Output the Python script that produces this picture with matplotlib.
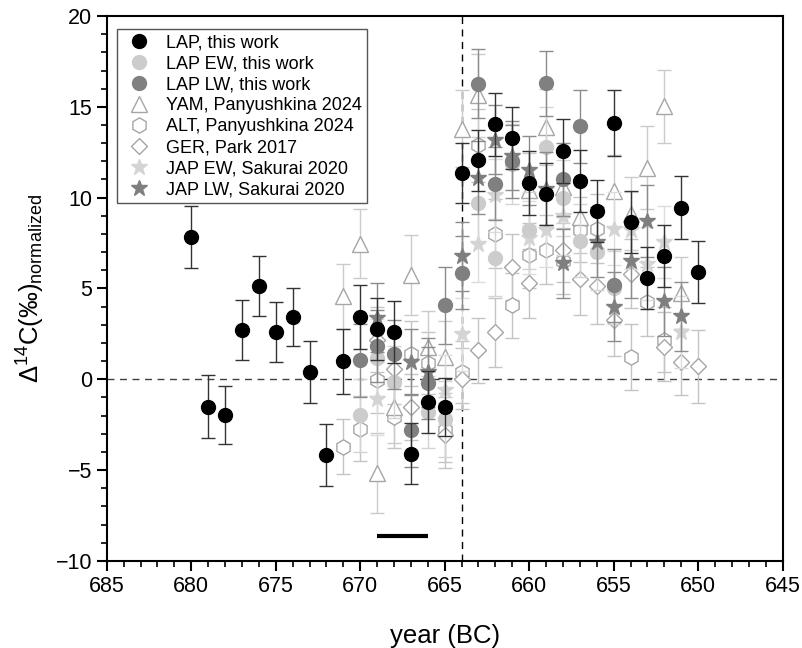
import matplotlib
matplotlib.use("Agg")
import matplotlib.pyplot as plt
from matplotlib.ticker import MultipleLocator

plt.rcParams['font.family'] = ['Liberation Sans', 'DejaVu Sans']
plt.rcParams['mathtext.fontset'] = 'custom'
plt.rcParams['mathtext.rm'] = 'Liberation Sans'
plt.rcParams['mathtext.it'] = 'Liberation Sans:italic'

# ---- data ----
lap_years = [680, 679, 678, 677, 676, 675, 674, 673, 672, 671, 670, 669, 668, 667, 666, 665,
             664, 663, 662, 661, 660, 659, 658, 657, 656, 655, 654, 653, 652, 651, 650]
lap_vals = [7.83, -1.5, -1.95, 2.7, 5.12, 2.6, 3.43, 0.4, -4.18, 0.99, 3.43, 2.79, 2.6, -4.09, -1.25, -1.52,
            11.35, 12.05, 14.03, 13.3, 10.8, 10.22, 12.57, 10.9, 9.26, 14.1, 8.66, 5.58, 6.77, 9.45, 5.9]
lap_err = [1.7, 1.75, 1.6, 1.65, 1.65, 1.65, 1.6, 1.7, 1.7, 1.8, 1.75, 1.7, 1.7, 1.7, 1.7, 1.6,
           1.65, 1.7, 1.75, 1.7, 1.75, 1.7, 1.75, 1.7, 1.7, 1.8, 1.7, 1.7, 1.7, 1.75, 1.7]

lapew_years = [670, 669, 668, 666, 665, 663, 662, 661, 660, 659, 658, 657, 656, 655]
lapew_vals = [-1.98, 1.2, -0.15, -1.8, -2.2, 9.7, 6.7, 11.87, 8.2, 12.78, 10.0, 7.63, 7.0, 5.05]
lapew_err = [2.0, 2.1, 2.0, 2.0, 2.1, 2.2, 2.1, 2.2, 2.1, 2.2, 2.1, 2.0, 2.1, 2.0]

laplw_years = [670, 669, 668, 667, 666, 665, 664, 663, 662, 661, 659, 658, 657, 655]
laplw_vals = [1.05, 1.83, 1.38, -2.8, -0.2, 4.07, 5.87, 16.27, 10.77, 12.0, 16.3, 11.0, 13.92, 5.17]
laplw_err = [2.0, 2.0, 1.9, 2.0, 2.0, 2.1, 2.0, 1.9, 2.0, 2.0, 1.8, 2.0, 2.0, 2.0]

yam_years = [671, 670, 669, 668, 667, 666, 665, 664, 663, 660, 659, 658, 657, 655, 654, 653, 652, 651]
yam_vals = [4.57, 7.47, -5.17, -1.5, 5.72, 1.78, 1.23, 13.8, 15.63, 10.44, 13.9, 10.58, 8.93,
            10.36, 9.12, 11.65, 15.02, 4.75]
yam_err = [1.8, 1.9, 2.2, 2.0, 2.2, 2.0, 2.0, 2.1, 2.3, 2.0, 2.1, 2.0, 2.0, 2.0, 2.0, 2.3, 2.0, 2.0]

alt_years = [671, 670, 669, 668, 667, 666, 665, 664, 663, 662, 661, 660, 659, 658, 657, 656, 654, 653, 652]
alt_vals = [-3.7, -2.71, -0.05, -2.07, 1.41, 0.9, -2.77, 0.4, 12.88, 8.02, 4.07, 6.82, 7.14, 6.51,
            8.24, 8.29, 1.23, 4.26, 2.18]
alt_err = [1.5, 1.8, 1.8, 1.7, 1.8, 1.7, 1.8, 1.7, 2.0, 1.9, 1.8, 1.8, 1.9, 1.8, 1.8, 1.9, 1.8, 1.9, 1.8]

ger_years = [669, 668, 667, 665, 664, 663, 662, 661, 660, 658, 657, 656, 655, 654, 652, 651, 650]
ger_vals = [2.18, 0.55, -1.52, -3.08, 0.04, 1.6, 2.6, 6.18, 5.3, 7.14, 5.54, 5.12, 3.28, 5.82, 1.78, 0.95, 0.72]
ger_err = [1.8, 1.9, 1.8, 1.8, 1.7, 1.8, 1.9, 1.8, 1.9, 1.8, 2.0, 2.1, 2.0, 1.9, 1.9, 1.8, 2.0]

japew_years = [669, 665, 664, 663, 662, 660, 659, 658, 655, 654, 653, 652, 651]
japew_vals = [-1.06, -0.57, 2.48, 7.47, 10.13, 7.8, 8.2, 8.97, 8.29, 8.2, 6.36, 7.56, 2.6]
japew_err = [2.0, 1.9, 2.0, 2.1, 2.0, 2.0, 2.0, 2.1, 2.0, 2.1, 2.0, 2.0, 2.0]

japlw_years = [669, 667, 666, 664, 663, 662, 661, 660, 659, 658, 656, 655, 654, 653, 652, 651]
japlw_vals = [3.4, 0.95, 0.4, 6.77, 11.1, 13.19, 12.3, 11.5, 10.5, 6.4, 7.56, 4.0, 6.5, 8.71, 4.31, 3.48]
japlw_err = [1.9, 1.8, 1.9, 1.9, 2.0, 1.9, 1.9, 1.9, 2.0, 1.9, 1.9, 1.9, 2.0, 2.0, 1.9, 1.9]

event_year = 664
bar_years = [669, 666]
bar_level = -8.6

# ---- figure ----
fig = plt.figure(figsize=(8.03, 6.48), dpi=100)
ax = fig.add_axes([0.1329, 0.1343, 0.8418, 0.8410])

grey_edge = '#a6a6a6'
ekw = dict(capsize=5, elinewidth=1.0, capthick=1.0, linestyle='none')

ax.errorbar(alt_years, alt_vals, yerr=alt_err, marker='h', ms=11, mfc='white', mec=grey_edge,
            mew=1.0, ecolor='#c4c4c4', label='ALT, Panyushkina 2024', zorder=2, **ekw)
ax.errorbar(ger_years, ger_vals, yerr=ger_err, marker='D', ms=8.5, mfc='white', mec=grey_edge,
            mew=1.0, ecolor='#c4c4c4', label='GER, Park 2017', zorder=2, **ekw)
ax.errorbar(yam_years, yam_vals, yerr=yam_err, marker='^', ms=11, mfc='white', mec=grey_edge,
            mew=1.0, ecolor='#cbcbcb', label='YAM, Panyushkina 2024', zorder=2, **ekw)
ax.errorbar(japew_years, japew_vals, yerr=japew_err, marker='*', ms=12, mfc='#d4d4d4', mec='#d4d4d4',
            ecolor='#dcdcdc', label='JAP EW, Sakurai 2020', zorder=3, **ekw)
ax.errorbar(lapew_years, lapew_vals, yerr=lapew_err, marker='o', ms=10, mfc='#cccccc', mec='#cccccc',
            ecolor='#d4d4d4', label='LAP EW, this work', zorder=3, **ekw)
ax.errorbar(japlw_years, japlw_vals, yerr=japlw_err, marker='*', ms=12, mfc='#7f7f7f', mec='#7f7f7f',
            ecolor='#8c8c8c', label='JAP LW, Sakurai 2020', zorder=4, **ekw)
ax.errorbar(laplw_years, laplw_vals, yerr=laplw_err, marker='o', ms=10, mfc='#808080', mec='#808080',
            ecolor='#8c8c8c', label='LAP LW, this work', zorder=4, **ekw)
ax.errorbar(lap_years, lap_vals, yerr=lap_err, marker='o', ms=10, mfc='black', mec='black',
            ecolor='#333333', label='LAP, this work', zorder=5, **ekw)

ax.axhline(0, color='#404040', lw=1.0, ls=(0, (5, 4)), zorder=1)
ax.axvline(event_year, color='black', lw=1.0, ls=(0, (5, 4)), zorder=1)
ax.plot(bar_years, [bar_level, bar_level], color='black', lw=3, solid_capstyle='butt', zorder=6)

ax.set_xlim(685, 645)
ax.set_ylim(-10, 20)
ax.xaxis.set_major_locator(MultipleLocator(5))
ax.xaxis.set_minor_locator(MultipleLocator(1))
ax.yaxis.set_major_locator(MultipleLocator(5))
ax.yaxis.set_minor_locator(MultipleLocator(1))
ax.tick_params(which='major', direction='out', length=7, width=1.5, labelsize=15.5)
ax.tick_params(which='minor', direction='out', length=4, width=1.2)
ax.tick_params(top=False, right=False)
for s in ax.spines.values():
    s.set_linewidth(1.5)

ax.set_xlabel('year (BC)', fontsize=18.5, labelpad=20)
ax.set_ylabel(r'$\Delta^{14}$C(‰)$_{\mathrm{normalized}}$', fontsize=18.5, labelpad=6)

handles, labels = ax.get_legend_handles_labels()
order = ['LAP, this work', 'LAP EW, this work', 'LAP LW, this work', 'YAM, Panyushkina 2024',
         'ALT, Panyushkina 2024', 'GER, Park 2017', 'JAP EW, Sakurai 2020', 'JAP LW, Sakurai 2020']
hmap = dict(zip(labels, handles))
leg_handles = []
for lab in order:
    h = hmap[lab]
    leg_handles.append(h[0] if hasattr(h, '__getitem__') else h)
leg = ax.legend(leg_handles, order, loc='upper left', bbox_to_anchor=(0.002, 0.993), fontsize=13,
                frameon=True, fancybox=False, edgecolor='#555555', framealpha=1,
                handletextpad=0.6, labelspacing=0.22, borderpad=0.3, handlelength=1.8)
leg.get_frame().set_linewidth(1.0)

fig.savefig('out.png', dpi=100)
